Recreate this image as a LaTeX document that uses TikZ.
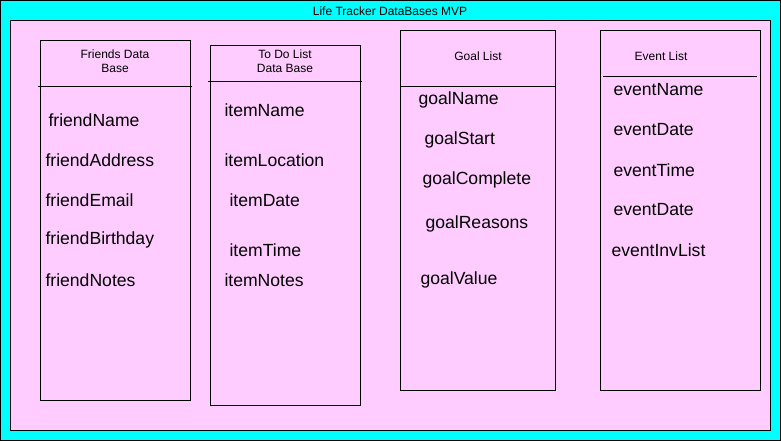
\documentclass[tikz,border=0pt]{standalone}
\usepackage{fontspec}
\setmainfont{Liberation Sans}
\usetikzlibrary{positioning}
\definecolor{cyanbg}{RGB}{0,255,255}
\definecolor{pinkbg}{RGB}{255,204,255}

\begin{document}
\begin{tikzpicture}[x=1pt,y=-1pt,line width=1pt,
  field/.style={anchor=west,inner sep=0pt,font=\fontsize{17.6}{19}\selectfont},
  header/.style={align=center,inner sep=0pt,font=\fontsize{12}{14}\selectfont}]
  \useasboundingbox (0,0) rectangle (781,441);
  % Background
  \draw[fill=cyanbg] (0.5,0.5) rectangle (780.5,440.5);
  \draw[fill=pinkbg] (10.5,20.5) rectangle (770.5,430.5);
  \node[header] (title) at (390,11) {Life Tracker DataBases MVP};

  % Friends Data Base
  \draw (40.5,40.5) rectangle (190.5,400.5);
  \node[header] (friendshead) at (115,61) {Friends Data\\Base};
  \draw (38,86.5) -- (192,86.5);
  \node[field] (friendName) at (48,120) {friendName};
  \node[field] (friendAddress) at (45,160) {friendAddress};
  \node[field] (friendEmail) at (45,200) {friendEmail};
  \node[field] (friendBirthday) at (45,240) {friendBirthday};
  \node[field] (friendNotes) at (45,280) {friendNotes};

  % To Do List Data Base
  \draw (210.5,45.5) rectangle (360.5,405.5);
  \node[header] (todohead) at (285,61) {To Do List\\Data Base};
  \draw (208,81.5) -- (362,81.5);
  \node[field] (itemName) at (224,110) {itemName};
  \node[field] (itemLocation) at (224,160) {itemLocation};
  \node[field] (itemDate) at (229,200) {itemDate};
  \node[field] (itemTime) at (229,250) {itemTime};
  \node[field] (itemNotes) at (224,280) {itemNotes};

  % Goal List
  \draw (400.5,30.5) rectangle (555.5,390.5);
  \node[header] (goalhead) at (478,56) {Goal List};
  \draw (401,86.5) -- (555,86.5);
  \node[field] (goalName) at (418,100) {goalName};
  \node[field] (goalStart) at (424,140) {goalStart};
  \node[field] (goalComplete) at (422,180) {goalComplete};
  \node[field] (goalReasons) at (425,224) {goalReasons};
  \node[field] (goalValue) at (420,280) {goalValue};

  % Event List
  \draw (600.5,30.5) rectangle (760.5,390.5);
  \node[header] (eventhead) at (661,56) {Event List};
  \draw (603,76.5) -- (757,76.5);
  \node[field] (eventName) at (613,90) {eventName};
  \node[field] (eventDate) at (613,130) {eventDate};
  \node[field] (eventTime) at (613,170) {eventTime};
  \node[field] (eventDate2) at (613,210) {eventDate};
  \node[field] (eventInvList) at (611,250) {eventInvList};
\end{tikzpicture}
\end{document}
